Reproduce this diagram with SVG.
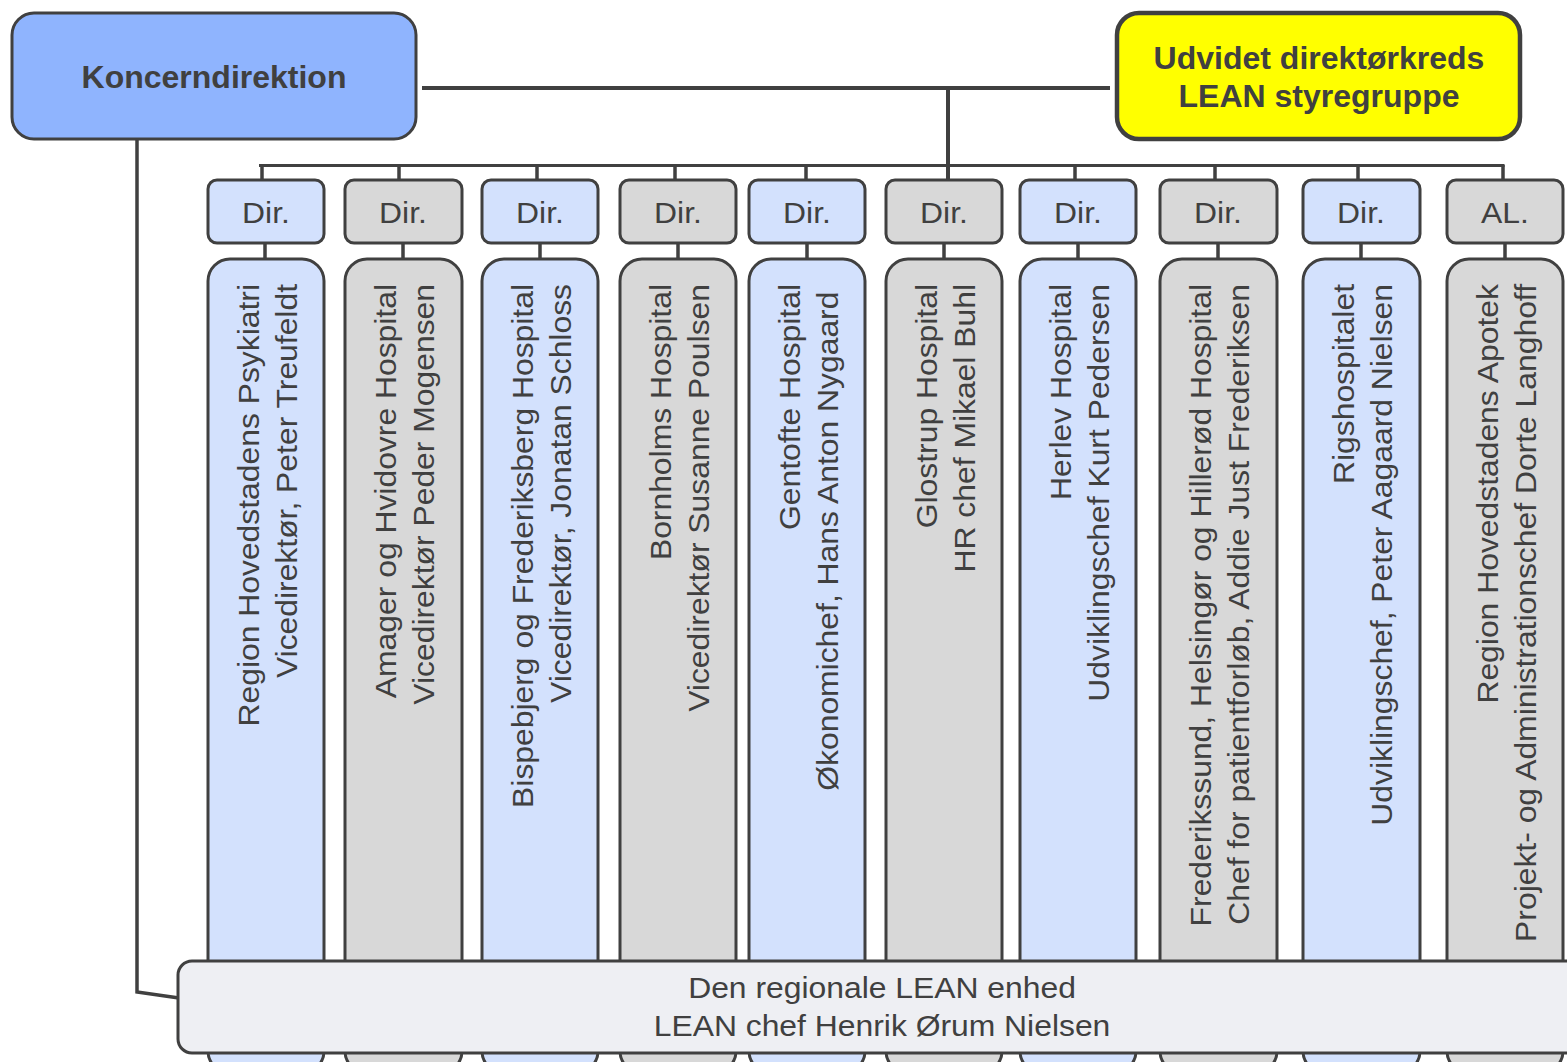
<svg xmlns="http://www.w3.org/2000/svg" width="1567" height="1062" viewBox="0 0 1567 1062">
<style>
.bx{stroke:#404040;stroke-width:3}
.blue{fill:#d3e1fd}
.gray{fill:#d8d8d8}
.t{font-family:"Liberation Sans",Arial,sans-serif;fill:#404040;font-size:29.5px}
.m{text-anchor:middle}
.e{text-anchor:end}
.tb{font-family:"Liberation Sans",Arial,sans-serif;fill:#404040;font-size:32px;font-weight:bold;text-anchor:middle}
.ln{stroke:#404040;fill:none}
</style>
<rect width="1567" height="1062" fill="#ffffff"/>
<g id="connectors" class="ln">
  <path d="M422,88 H1110" stroke-width="4"/>
  <path d="M948,88 V181" stroke-width="4"/>
  <path d="M259,165.5 H1504.5" stroke-width="3"/>
  <path d="M262,165 V181 M399,165 V181 M537,165 V181 M675,165 V181 M806,165 V181 M1075,165 V181 M1215,165 V181 M1358,165 V181 M1503,165 V181" stroke-width="3.5"/>
  <path d="M265,242 V260 M403,242 V260 M540,242 V260 M678,242 V260 M807,242 V260 M944,242 V260 M1078,242 V260 M1218,242 V260 M1361,242 V260 M1505,242 V260" stroke-width="3.5"/>
  <path d="M137,139 V992 L179,998" stroke-width="3.5"/>
</g>
<g id="koncerndirektion">
  <rect x="12" y="13" width="404" height="126" rx="22" fill="#8fb4fe" class="bx" stroke-width="3.5"/>
  <text class="tb" x="214" y="88">Koncerndirektion</text>
</g>
<g id="styregruppe">
  <rect x="1117" y="13" width="403" height="126" rx="22" fill="#ffff00" stroke="#404040" stroke-width="4.5"/>
  <text class="tb" x="1319" y="69">Udvidet direktørkreds</text>
  <text class="tb" x="1319" y="107">LEAN styregruppe</text>
</g>
<g id="col1">
  <rect x="208" y="180" width="116" height="63" rx="9" class="bx blue"/>
  <text class="t m" transform="translate(266,223) scale(1.08,1)">Dir.</text>
  <rect x="208" y="259" width="116" height="814" rx="22" class="bx blue"/>
  <g transform="translate(266,284) rotate(-90) scale(1.08,1)">
    <text class="t e" x="0" y="-7">Region Hovedstadens Psykiatri</text>
    <text class="t e" x="0" y="31">Vicedirektør, Peter Treufeldt</text>
  </g>
</g>
<g id="col2">
  <rect x="345" y="180" width="117" height="63" rx="9" class="bx gray"/>
  <text class="t m" transform="translate(403,223) scale(1.08,1)">Dir.</text>
  <rect x="345" y="259" width="117" height="814" rx="22" class="bx gray"/>
  <g transform="translate(403,284) rotate(-90) scale(1.08,1)">
    <text class="t e" x="0" y="-7">Amager og Hvidovre Hospital</text>
    <text class="t e" x="0" y="31">Vicedirektør Peder Mogensen</text>
  </g>
</g>
<g id="col3">
  <rect x="482" y="180" width="116" height="63" rx="9" class="bx blue"/>
  <text class="t m" transform="translate(540,223) scale(1.08,1)">Dir.</text>
  <rect x="482" y="259" width="116" height="814" rx="22" class="bx blue"/>
  <g transform="translate(540,284) rotate(-90) scale(1.08,1)">
    <text class="t e" x="0" y="-7">Bispebjerg og Frederiksberg Hospital</text>
    <text class="t e" x="0" y="31">Vicedirektør, Jonatan Schloss</text>
  </g>
</g>
<g id="col4">
  <rect x="620" y="180" width="116" height="63" rx="9" class="bx gray"/>
  <text class="t m" transform="translate(678,223) scale(1.08,1)">Dir.</text>
  <rect x="620" y="259" width="116" height="814" rx="22" class="bx gray"/>
  <g transform="translate(678,284) rotate(-90) scale(1.08,1)">
    <text class="t e" x="0" y="-7">Bornholms Hospital</text>
    <text class="t e" x="0" y="31">Vicedirektør Susanne Poulsen</text>
  </g>
</g>
<g id="col5">
  <rect x="749" y="180" width="116" height="63" rx="9" class="bx blue"/>
  <text class="t m" transform="translate(807,223) scale(1.08,1)">Dir.</text>
  <rect x="749" y="259" width="116" height="814" rx="22" class="bx blue"/>
  <g transform="translate(807,284) rotate(-90) scale(1.08,1)">
    <text class="t e" x="0" y="-7">Gentofte Hospital</text>
    <text class="t e" x="-7" y="31">Økonomichef, Hans Anton Nygaard</text>
  </g>
</g>
<g id="col6">
  <rect x="886" y="180" width="116" height="63" rx="9" class="bx gray"/>
  <text class="t m" transform="translate(944,223) scale(1.08,1)">Dir.</text>
  <rect x="886" y="259" width="116" height="814" rx="22" class="bx gray"/>
  <g transform="translate(944,284) rotate(-90) scale(1.08,1)">
    <text class="t e" x="0" y="-7">Glostrup Hospital</text>
    <text class="t e" x="0" y="31">HR chef Mikael Buhl</text>
  </g>
</g>
<g id="col7">
  <rect x="1020" y="180" width="116" height="63" rx="9" class="bx blue"/>
  <text class="t m" transform="translate(1078,223) scale(1.08,1)">Dir.</text>
  <rect x="1020" y="259" width="116" height="814" rx="22" class="bx blue"/>
  <g transform="translate(1078,284) rotate(-90) scale(1.08,1)">
    <text class="t e" x="0" y="-7">Herlev Hospital</text>
    <text class="t e" x="0" y="31">Udviklingschef Kurt Pedersen</text>
  </g>
</g>
<g id="col8">
  <rect x="1160" y="180" width="117" height="63" rx="9" class="bx gray"/>
  <text class="t m" transform="translate(1218,223) scale(1.08,1)">Dir.</text>
  <rect x="1160" y="259" width="117" height="814" rx="22" class="bx gray"/>
  <g transform="translate(1218,284) rotate(-90) scale(1.08,1)">
    <text class="t e" x="0" y="-7">Frederikssund, Helsingør og Hillerød Hospital</text>
    <text class="t e" x="0" y="31">Chef for patientforløb, Addie Just Frederiksen</text>
  </g>
</g>
<g id="col9">
  <rect x="1303" y="180" width="117" height="63" rx="9" class="bx blue"/>
  <text class="t m" transform="translate(1361,223) scale(1.08,1)">Dir.</text>
  <rect x="1303" y="259" width="117" height="814" rx="22" class="bx blue"/>
  <g transform="translate(1361,284) rotate(-90) scale(1.08,1)">
    <text class="t e" x="0" y="-7">Rigshospitalet</text>
    <text class="t e" x="0" y="31">Udviklingschef, Peter Aagaard Nielsen</text>
  </g>
</g>
<g id="col10">
  <rect x="1447" y="180" width="116" height="63" rx="9" class="bx gray"/>
  <text class="t m" transform="translate(1505,223) scale(1.08,1)">AL.</text>
  <rect x="1447" y="259" width="116" height="814" rx="22" class="bx gray"/>
  <g transform="translate(1505,284) rotate(-90) scale(1.08,1)">
    <text class="t e" x="0" y="-7">Region Hovedstadens Apotek</text>
    <text class="t e" x="0" y="31">Projekt- og Administrationschef Dorte Langhoff</text>
  </g>
</g>
<g id="lean-enhed">
  <rect x="178" y="961" width="1410" height="92" rx="14" fill="#eeeff3" class="bx"/>
  <text class="t m" transform="translate(882,998) scale(1.08,1)">Den regionale LEAN enhed</text>
  <text class="t m" transform="translate(882,1036) scale(1.08,1)">LEAN chef Henrik Ørum Nielsen</text>
</g>
</svg>
